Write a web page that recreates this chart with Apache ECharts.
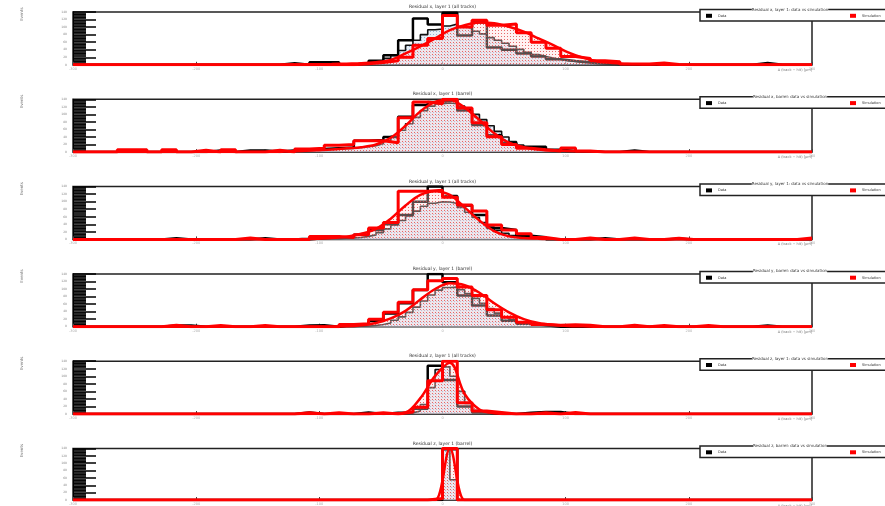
<!DOCTYPE html>
<html>
<head>
<meta charset="utf-8">
<script src="https://cdn.jsdelivr.net/npm/echarts@6/dist/echarts.min.js"></script>
<style>
  html, body { margin: 0; padding: 0; background: #fff; }
  #chart { width: 885px; height: 506px; }
</style>
</head>
<body>
<div id="chart"></div>
<script>
// Residual distributions, six rows: data (black) vs simulation (red).
// Coarse histograms: 50 bins of 12 um from -300 to 300.
// Fine data histograms: 50 bins of 6 um from -150 to 150.
// Fit curves: sampled at the coarse bin centres.

const panelTitles = [
  "Residual x, layer 1 (all tracks)",
  "Residual x, layer 1 (barrel)",
  "Residual y, layer 1 (all tracks)",
  "Residual y, layer 1 (barrel)",
  "Residual z, layer 1 (all tracks)",
  "Residual z, layer 1 (barrel)"
];
const legendHeaders = [
  "Residual x, layer 1: data vs simulation",
  "Residual x, barrel: data vs simulation",
  "Residual y, layer 1: data vs simulation",
  "Residual y, barrel: data vs simulation",
  "Residual z, layer 1: data vs simulation",
  "Residual z, barrel: data vs simulation"
];

const blackCoarse1 = [0,0,0,0,0,0,0,0,0,0, 0,0,0,0,4,0,7,7,0,4, 11,25,65,123,107,138,78,112,46,40, 30,22,15,10,7,4,2,1,0,0, 0,0,0,0,0,0,5,0,0,0];
const redCoarse1   = [0,0,0,0,0,0,0,0,0,0, 0,0,0,0,0,0,0,0,0,3, 6,11,20,52,70,131,100,118,105,108, 85,60,44,22,17,11,8,2,2,5, 1,0,0,0,0,0,0,0,0,0];
const redFit1      = [0,0,0,0,0,0,0,0,0,0, 0,0,0,0,0.5,1,1.5,2,3,4, 7,13,30,49,70,92,105,112,110,101, 88,70,52,33,19,9,5,2,1,0.5, 0,0,0,0,0,0,0,0,0,0];
const blackFine1   = [0,0,0,0,0,0,0,0,0,0, 0,0,0,3,5,9,11,17,25,38, 52,65,80,93,95,103,108,101,97,89, 82,72,65,57,49,41,33,27,22,18, 14,11,9,6,5,3,2,1,1,0];

const blackCoarse2 = [0,0,0,0,0,0,0,0,0,4, 0,4,4,0,4,6,8,10,12,30, 32,40,94,125,133,138,110,72,45,25, 14,14,6,3,2,0,0,4,0,0, 0,0,0,0,0,0,0,0,0,0];
const redCoarse2   = [0,0,0,6,6,0,6,0,5,0, 6,0,0,5,0,8,10,18,20,30, 30,25,91,133,128,140,117,78,41,20, 10,6,3,11,3,0,0,0,0,0, 0,0,0,0,0,0,0,0,0,0];
const redFit2      = [0,0,0,0,0,0,0,0,0,0, 0,0,0,0,2,3,5,7,10,13, 20,38,70,108,133,138,118,85,50,25, 13,7,4,3,2,1,0,0,0,0, 0,0,0,0,0,0,0,0,0,0];
const blackFine2   = [4,4,4,4,4,4,4,5,6,7, 8,9,10,12,14,17,22,30,42,58, 75,92,110,122,128,130,128,122,112,100, 86,70,55,40,28,19,13,9,6,4, 3,2,2,1,1,1,0,0,0,0];

const blackCoarse3 = [0,0,0,0,0,0,3,0,0,0, 0,0,3,0,0,0,4,4,5,12, 25,40,65,100,140,115,90,65,30,25, 10,6,0,0,0,3,0,0,0,0, 2,0,0,0,0,0,0,0,0,0];
const redCoarse3   = [0,0,0,0,0,0,0,0,0,0, 0,4,0,0,0,0,8,8,5,12, 30,45,128,128,130,112,91,75,38,25, 15,5,0,0,4,0,0,4,0,0, 3,0,0,0,0,0,0,0,0,4];
const redFit3      = [0,0,0,0,0,0,0,0,0,0, 0,0,0,0,0,0,2,4,7,15, 28,55,90,118,128,118,85,50,22,8, 4,2,1,0,0,0,0,0,0,0, 0,0,0,0,0,0,0,0,0,0];
const blackFine3   = [1,1,1,1,1,2,2,2,2,3, 3,3,4,5,8,12,18,28,38,50, 62,75,88,96,100,99,95,85,72,58, 45,33,24,16,10,6,4,3,2,1, 1,0,0,0,0,0,0,0,0,0];

const blackCoarse4 = [0,0,0,0,0,0,3,3,0,0, 0,0,0,0,0,3,4,0,5,7, 15,35,62,97,140,118,83,56,30,16, 8,4,0,0,0,0,0,0,0,0, 0,0,0,0,0,0,3,0,0,0];
const redCoarse4   = [0,0,0,0,0,0,4,0,0,3, 0,0,3,0,0,0,0,0,6,8, 20,38,65,98,122,128,105,83,45,25, 12,6,4,5,4,0,0,4,0,3, 0,0,3,0,0,0,0,0,0,0];
const redFit4      = [0,0,0,0,0,0,0,0,0,0, 0,0,0,0,0,0,0,0,1,4, 10,22,42,72,100,115,110,90,62,38, 20,10,5,2,1,0,0,0,0,0, 0,0,0,0,0,0,0,0,0,0];
const blackFine4   = [0,0,0,0,0,0,0,0,0,0, 0,0,0,1,2,3,6,10,17,26, 38,52,68,84,97,104,105,98,88,75, 62,48,36,26,18,12,8,5,3,2, 1,0,0,0,0,0,0,0,0,0];

const blackCoarse5 = [0,0,0,0,0,0,0,0,0,0, 0,0,0,0,0,4,0,0,0,4, 0,3,4,14,128,90,20,4,0,0, 3,5,5,0,0,0,0,0,0,0, 0,0,0,0,0,0,0,0,0,0];
const redCoarse5   = [0,0,0,0,0,0,0,0,0,0, 0,0,0,0,0,3,0,3,0,0, 3,0,5,18,88,140,30,8,4,0, 0,3,0,4,0,0,0,0,0,0, 0,0,0,0,0,0,0,0,0,0];
const redFit5      = [0,0,0,0,0,0,0,0,0,0, 0,0,0,0,0,0,0,0,0,0, 0,1,4,42,101,136,53,12,2,0, 0,0,0,0,0,0,0,0,0,0, 0,0,0,0,0,0,0,0,0,0];
const blackFine5   = [0,0,0,0,0,0,0,0,0,0, 0,0,0,0,0,0,0,0,0,1, 3,8,25,70,118,125,100,60,28,10, 4,2,0,0,0,0,0,0,0,0, 0,0,0,0,0,0,0,0,0,0];

const blackCoarse6 = [0,0,0,0,0,0,0,0,0,0, 0,0,0,0,0,0,0,0,0,0, 0,0,0,0,0,138,0,0,0,0, 0,0,0,0,0,0,0,0,0,0, 0,0,0,0,0,0,0,0,0,0];
const redCoarse6   = [0,0,0,0,0,0,0,0,0,0, 0,0,0,0,0,0,0,0,0,0, 0,0,0,0,4,140,0,0,0,0, 0,0,0,0,0,0,0,0,0,0, 0,0,0,0,0,0,0,0,0,0];
const redFit6      = [0,0,0,0,0,0,0,0,0,0, 0,0,0,0,0,0,0,0,0,0, 0,0,0,0,0,140,0,0,0,0, 0,0,0,0,0,0,0,0,0,0, 0,0,0,0,0,0,0,0,0,0];
const blackFine6   = [0,0,0,0,0,0,0,0,0,0, 0,0,0,0,0,0,0,0,0,0, 0,0,0,0,2,140,55,0,0,0, 0,0,0,0,0,0,0,0,0,0, 0,0,0,0,0,0,0,0,0,0];

const blackCoarse = [blackCoarse1, blackCoarse2, blackCoarse3, blackCoarse4, blackCoarse5, blackCoarse6];
const redCoarse   = [redCoarse1, redCoarse2, redCoarse3, redCoarse4, redCoarse5, redCoarse6];
const redFit      = [redFit1, redFit2, redFit3, redFit4, redFit5, redFit6];
const blackFine   = [blackFine1, blackFine2, blackFine3, blackFine4, blackFine5, blackFine6];

// binning
const X_MIN = -300, X_MAX = 300, COARSE_W = 12, FINE_MIN = -150, FINE_W = 6;

// layout
const PANEL_TOP = 12, PANEL_STEP = 87.3, PANEL_H = 52.8;
const FRAME_LEFT = 73, FRAME_RIGHT = 812;

// Dotted hatch fills: a faint tint with one darker dot per tile.
function dotPattern(tint, dot, size, off) {
  const c = document.createElement('canvas');
  c.width = size; c.height = size;
  const g = c.getContext('2d');
  g.fillStyle = tint;
  g.fillRect(0, 0, size, size);
  g.fillStyle = dot;
  g.fillRect(off, off, 1, 1);
  return { image: c, repeat: 'repeat' };
}
const redDots = dotPattern('rgba(255,215,215,0.35)', 'rgba(225,70,70,0.8)', 3, 0);
const blueDots = dotPattern('rgba(200,215,235,0.45)', 'rgba(120,150,195,0.7)', 3, 1);

function coarseSteps(vals) {
  const pts = vals.map((v, k) => [X_MIN + k * COARSE_W, v]);
  pts.push([X_MAX, vals[vals.length - 1]]);
  return pts;
}
function fineSteps(vals) {
  const pts = [[X_MIN, 0]];
  vals.forEach((v, j) => pts.push([FINE_MIN + j * FINE_W, v]));
  pts.push([FINE_MIN + vals.length * FINE_W, 0]);
  pts.push([X_MAX, 0]);
  return pts;
}
function fitPoints(vals) {
  const pts = [[X_MIN, vals[0]]];
  vals.forEach((v, k) => pts.push([X_MIN + (k + 0.5) * COARSE_W, v]));
  pts.push([X_MAX, vals[vals.length - 1]]);
  return pts;
}

const grids = [], xAxes = [], yAxes = [], series = [], legends = [], graphics = [];

for (let i = 0; i < 6; i++) {
  const top = PANEL_TOP + PANEL_STEP * i;
  grids.push({
    left: FRAME_LEFT, width: FRAME_RIGHT - FRAME_LEFT, top: top, height: PANEL_H,
    show: true, borderColor: '#222', borderWidth: 1.5, backgroundColor: 'transparent'
  });
  xAxes.push({
    type: 'value', gridIndex: i, min: X_MIN, max: X_MAX, interval: 100,
    axisLine: { onZero: false, lineStyle: { color: '#444', width: 1 } },
    axisTick: { inside: true, length: 3, lineStyle: { color: '#444', width: 1 } },
    axisLabel: { fontSize: 3.5, color: '#aaa', margin: 2, fontFamily: 'DejaVu Sans' },
    splitLine: { show: false }
  });
  yAxes.push({
    type: 'value', gridIndex: i, min: 0, max: 140, interval: 20,
    axisLine: { show: true, onZero: false, lineStyle: { color: '#000', width: 1 } },
    axisTick: { show: true, inside: true, length: 23, lineStyle: { color: '#000', width: 1.5 } },
    minorTick: { show: true, splitNumber: 5, length: 13, lineStyle: { color: '#000', width: 1.7 } },
    axisLabel: { fontSize: 3, color: '#888', margin: 6, fontFamily: 'DejaVu Sans' },
    splitLine: { show: false }, minorSplitLine: { show: false }
  });

  series.push({
    name: 'Data (fine)', type: 'line', xAxisIndex: i, yAxisIndex: i, step: 'end',
    data: fineSteps(blackFine[i]), symbol: 'none', silent: true,
    itemStyle: { color: '#111' },
    lineStyle: { color: '#111', width: 1.6 },
    areaStyle: { color: blueDots, opacity: 1 }, z: 2
  });
  series.push({
    name: 'Data', type: 'line', xAxisIndex: i, yAxisIndex: i, step: 'end',
    data: coarseSteps(blackCoarse[i]), symbol: 'none', silent: true,
    itemStyle: { color: '#000' },
    lineStyle: { color: '#000', width: 2.5 }, z: 3
  });
  series.push({
    name: 'Fit', type: 'line', xAxisIndex: i, yAxisIndex: i, smooth: 0.35,
    data: fitPoints(redFit[i]), symbol: 'none', silent: true,
    itemStyle: { color: '#ff0000' },
    lineStyle: { color: '#ff0000', width: 2.5 },
    areaStyle: { color: redDots, opacity: 1 }, z: 4
  });
  series.push({
    name: 'Simulation', type: 'line', xAxisIndex: i, yAxisIndex: i, step: 'end',
    data: coarseSteps(redCoarse[i]), symbol: 'none', silent: true,
    itemStyle: { color: '#ff0000' },
    lineStyle: { color: '#ff0000', width: 3 }, z: 5
  });

  // legend box with its header
  graphics.push({
    type: 'rect', z: 90, silent: true,
    shape: { x: 700, y: top - 2.5, width: 200, height: 11.5 },
    style: { fill: '#fff', stroke: '#222', lineWidth: 1.5 }
  });
  graphics.push({
    type: 'text', z: 95, silent: true, x: 790, y: top - 2.5,
    style: { text: legendHeaders[i], fontSize: 4, fill: '#333', fontFamily: 'DejaVu Sans',
      align: 'center', verticalAlign: 'middle', backgroundColor: '#fff' }
  });
  legends.push({
    data: ['Data'], left: 706, top: top + 1.8, orient: 'horizontal', z: 100,
    selectedMode: false, itemWidth: 6, itemHeight: 4, itemGap: 2, padding: 0,
    icon: 'rect', textStyle: { fontSize: 3.5, color: '#333', fontFamily: 'DejaVu Sans', padding: [0, 0, 0, 1] }
  });
  legends.push({
    data: ['Simulation'], left: 850, top: top + 1.8, orient: 'horizontal', z: 100,
    selectedMode: false, itemWidth: 6, itemHeight: 4, itemGap: 2, padding: 0,
    icon: 'rect', textStyle: { fontSize: 3.5, color: '#333', fontFamily: 'DejaVu Sans', padding: [0, 0, 0, 1] }
  });

  // panel title
  graphics.push({
    type: 'text', z: 50, silent: true, x: 442.5, y: top - 5,
    style: { text: panelTitles[i], fontSize: 4.5, fill: '#333', fontFamily: 'DejaVu Sans',
      align: 'center', verticalAlign: 'middle' }
  });
  // y-axis title
  graphics.push({
    type: 'text', z: 50, silent: true, x: 22, y: top + 9, rotation: Math.PI / 2,
    style: { text: 'Events', fontSize: 4, fill: '#777', fontFamily: 'DejaVu Sans',
      align: 'left', verticalAlign: 'middle' }
  });
  // x-axis title
  graphics.push({
    type: 'text', z: 50, silent: true, x: FRAME_RIGHT, y: top + PANEL_H + 5,
    style: { text: '\u0394 (track \u2212 hit) [\u03bcm]', fontSize: 3.5, fill: '#777',
      fontFamily: 'DejaVu Sans', align: 'right', verticalAlign: 'middle' }
  });
}

const chart = echarts.init(document.getElementById('chart'), null, { renderer: 'canvas' });
chart.setOption({
  animation: false,
  backgroundColor: '#fff',
  grid: grids,
  xAxis: xAxes,
  yAxis: yAxes,
  legend: legends,
  series: series,
  graphic: graphics
});
</script>
</body>
</html>
